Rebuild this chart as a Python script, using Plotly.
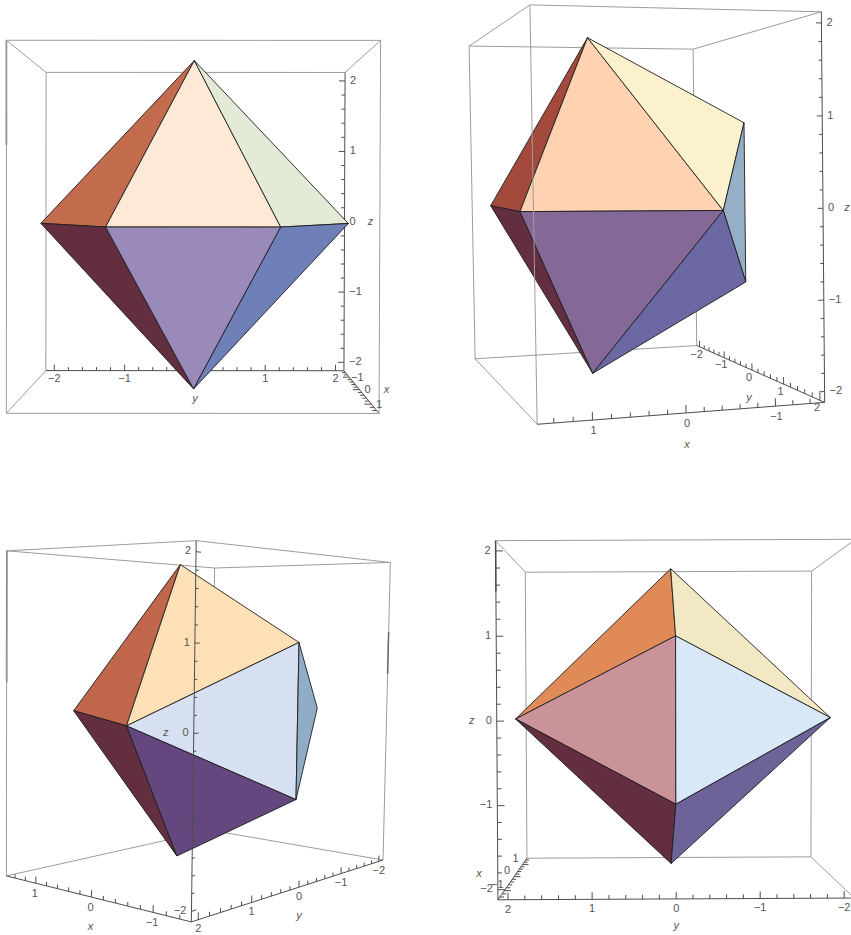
import numpy as np
import plotly.graph_objects as go

# ---- data -------------------------------------------------------------
VERTEX_NAMES = ['T', 'Bm', 'Ym', 'Yp', 'Cp', 'Dp', 'A', 'Bv']
VERTEX_X = [0.47, 0.47, -0.47, -0.47, 1.50, 1.50, -1.50, -1.50]
VERTEX_Y = [0.00, 0.00, -2.03, 2.03, -1.00, 1.00, 0.00, 0.00]
VERTEX_Z = [2.03, -2.03, 0.00, 0.00, 0.00, 0.00, 1.00, -1.00]
BOX_HALF = {'x': 1.57, 'y': 2.12, 'z': 2.12}
TICK_LIMIT = {'x': 1.4, 'y': 2.0, 'z': 2.0}
MINOR_STEP = 0.2

# visible faces of each view, with their colours
FACES_1 = [(('T', 'Ym', 'Cp'), '#C26B4D'), (('T', 'Cp', 'Dp'), '#FEE8D6'), (('T', 'Dp', 'Yp'), '#E3EAD6'),
           (('Bm', 'Ym', 'Cp'), '#632E3F'), (('Bm', 'Cp', 'Dp'), '#9A8ABA'), (('Bm', 'Dp', 'Yp'), '#6F80B8')]
FACES_2 = [(('T', 'Cp', 'Dp'), '#A44A3C'), (('T', 'Dp', 'Yp'), '#FFD2B2'), (('T', 'Yp', 'A'), '#FBF1CC'),
           (('Yp', 'A', 'Bv'), '#94AFC6'), (('Bm', 'Cp', 'Dp'), '#632E3F'), (('Bm', 'Dp', 'Yp'), '#846998'),
           (('Bm', 'Yp', 'Bv'), '#6C68A3')]
FACES_3 = [(('T', 'Dp', 'Yp'), '#C0664A'), (('T', 'Yp', 'A'), '#FDE0B6'), (('Yp', 'A', 'Bv'), '#D7E0F0'),
           (('A', 'Ym', 'Bv'), '#90ACC6'), (('Bm', 'Dp', 'Yp'), '#632E3F'), (('Bm', 'Yp', 'Bv'), '#654780')]
FACES_4 = [(('T', 'Yp', 'A'), '#E08A57'), (('T', 'A', 'Ym'), '#F2E8C4'), (('Yp', 'A', 'Bv'), '#C99399'),
           (('A', 'Ym', 'Bv'), '#D8E8F6'), (('Bm', 'Yp', 'Bv'), '#632E3F'), (('Bm', 'Bv', 'Ym'), '#6E6399')]

# ---- view cameras: homogeneous 3x4 matrices acting on box-cube coordinates
CAM_1 = [-10.708, 78.249, 0.019661, 194.28, -10.516, 0.023339, -78.354, 224.17, -0.052554, -3.5383e-05, -0.00079065, 1]
CAM_2 = [-68.41, -19.51, -2.7479, 628.13, -1.5157, -11.067, -82.427, 205.43, -0.014449, -0.066725, -0.0024891, 1]
CAM_3 = [-35.717, -58.035, 0.057488, 205.03, 20.325, -34.677, -76.5, 713.75, 0.033406, -0.054298, -0.0045121, 1]
CAM_4 = [34.282, -75.043, -1.5622, 671.94, 37.178, 0.15957, -76.6, 717.48, 0.0535, -0.00023467, -0.0021486, 1]

# axis: box corner signs (None = running coordinate), tick direction, labels,
# label pixel offset, text position, axis title pixel offset
VIEWS = [
    dict(cam=CAM_1, faces=FACES_1,
         dark=[((1, -1, 1), (1, -1, 0.44), '#555555', 1.5)],
         axes=[
        dict(name='y', at=(-1, None, -1), tick=(0, 0, 1), labels=[-2, -1, 1, 2], off=(0, 9), pos='middle center', title=(0, 29)),
        dict(name='z', at=(-1, 1, None), tick=(0, -1, 0), labels=[-2, -1, 0, 1, 2], off=(5, 0), pos='middle right', title=(26, 0)),
        dict(name='x', at=(None, 1, -1), tick=(0, -1, 0), labels=[-1, 0, 1], off=(8, 1), pos='middle center', title=(27, 1)),
    ]),
    dict(cam=CAM_2, faces=FACES_2, dark=[],
         axes=[
        dict(name='x', at=(None, 1, -1), tick=(0, 0, 1), labels=[-1, 0, 1], off=(1, 11), pos='middle center', title=(1, 32)),
        dict(name='y', at=(-1, None, -1), tick=(0, 0, 1), labels=[-2, -1, 0, 1, 2], off=(-3, 8), pos='middle center', title=(-3, 28)),
        dict(name='z', at=(-1, 1, None), tick=(1, 0, 0), labels=[-2, -1, 0, 1, 2], off=(5, 0), pos='middle right', title=(24, 0)),
    ]),
    dict(cam=CAM_3, faces=FACES_3,
         dark=[((1, 1, 1), (1, 1, 0.2), '#555555', 1.5), ((-1, -1, 0.54), (-1, -1, 0.26), '#6a6a6a', 1.5)],
         axes=[
        dict(name='x', at=(None, 1, -1), tick=(0, 0, 1), labels=[-1, 0, 1], off=(-1, 11), pos='middle center', title=(-1, 30)),
        dict(name='y', at=(-1, None, -1), tick=(0, 0, 1), labels=[-2, -1, 0, 1, 2], off=(0, 10), pos='middle center', title=(0, 29)),
        dict(name='z', at=(-1, 1, None), tick=(0, -1, 0), labels=[-2, -1, 0, 1, 2], off=(-5, 0), pos='middle left', title=(-28, 0)),
    ]),
    dict(cam=CAM_4, faces=FACES_4,
         dark=[((-1, 1, 1), (-1, 1, 0.72), '#555555', 1.5)],
         axes=[
        dict(name='y', at=(-1, None, -1), tick=(0, 0, 1), labels=[-2, -1, 0, 1, 2], off=(0, 10), pos='middle center', title=(0, 27)),
        dict(name='z', at=(-1, 1, None), tick=(0, -1, 0), labels=[-2, -1, 0, 1, 2], off=(-5, 0), pos='middle left', title=(-25, 0)),
        dict(name='x', at=(None, 1, -1), tick=(0, -1, 0), labels=[-1, 0, 1], off=(-7, -5), pos='middle center', title=(-35, -2)),
    ]),
]

MAJOR_LEN, MINOR_LEN = 0.085, 0.05
FRAME_COLOR, AXIS_COLOR, EDGE_COLOR, TEXT_COLOR = '#9c9c9c', '#4d4d4d', '#1e1e1e', '#555555'
FONT = 'Liberation Sans'
FONT_SIZE = 11

# ---- projection ----------------------------------------------------------
HALF = np.array([BOX_HALF['x'], BOX_HALF['y'], BOX_HALF['z']])
CUBE = BOX_HALF['z'] / HALF          # data -> cube scale (the box is drawn as a cube)
VERTS = {n: np.array([x, y, z]) for n, x, y, z in zip(VERTEX_NAMES, VERTEX_X, VERTEX_Y, VERTEX_Z)}

def homog(cam, p):
    return np.array(cam).reshape(3, 4) @ np.append(np.asarray(p) * CUBE, 1.0)

def project(cam, p):
    h = homog(cam, p)
    return h[0] / h[2], h[1] / h[2]

def depth(cam, p):
    return float(homog(cam, p)[2])

def add_lines(fig, segs, color, width):
    xs, ys = [], []
    for a, b in segs:
        xs += [a[0], b[0], None]
        ys += [a[1], b[1], None]
    if xs:
        fig.add_trace(go.Scatter(x=xs, y=ys, mode='lines', line=dict(color=color, width=width),
                                 hoverinfo='skip', showlegend=False))

def box_edges():
    out = []
    for a in (-1, 1):
        for b in (-1, 1):
            out.append(((-1, a, b), (1, a, b)))
            out.append(((a, -1, b), (a, 1, b)))
            out.append(((a, b, -1), (a, b, 1)))
    return out

def minus(v):
    return str(v).replace('-', '\u2212')

fig = go.Figure()

for view in VIEWS:
    cam = view['cam']
    centre_depth = depth(cam, np.zeros(3))
    is_front = lambda p: depth(cam, p) < centre_depth - 1e-9
    axis_mids = {tuple(0 if s is None else s for s in ax['at']) for ax in view['axes']}
    back_frame, front_frame = [], []
    for e0, e1 in box_edges():
        mid_signs = tuple(int((a + b) / 2) for a, b in zip(e0, e1))
        if mid_signs in axis_mids:
            continue
        seg = (project(cam, HALF * np.array(e0)), project(cam, HALF * np.array(e1)))
        (front_frame if is_front(HALF * np.array(mid_signs)) else back_frame).append(seg)

    back_axis, front_axis, label_sets = [], [], []
    for ax in view['axes']:
        idx = ax['at'].index(None)
        half = HALF[idx]
        def point(t):
            p = np.array([0.0 if s is None else s * HALF[i] for i, s in enumerate(ax['at'])])
            p[idx] = t
            return p
        segs = [(project(cam, point(-half)), project(cam, point(half)))]
        n = int(round(TICK_LIMIT[ax['name']] / MINOR_STEP))
        for i in range(-n, n + 1):
            major = i % 5 == 0
            p = point(i * MINOR_STEP)
            q = p + np.array(ax['tick']) / CUBE * (MAJOR_LEN if major else MINOR_LEN)
            segs.append((project(cam, p), project(cam, q)))
        (front_axis if is_front(point(0)) else back_axis).extend(segs)
        xs, ys, ts = [], [], []
        for t in ax['labels']:
            u, v = project(cam, point(t))
            xs.append(u + ax['off'][0]); ys.append(v + ax['off'][1]); ts.append(minus(t))
        label_sets.append((xs, ys, ts, ax['pos']))
        u, v = project(cam, point(0))
        label_sets.append(([u + ax['title'][0]], [v + ax['title'][1]], ['<i>%s</i>' % ax['name']], 'middle center'))

    add_lines(fig, back_frame, FRAME_COLOR, 1)
    for e0, e1, col, w in view['dark']:
        add_lines(fig, [(project(cam, HALF * np.array(e0)), project(cam, HALF * np.array(e1)))], col, w)
    add_lines(fig, back_axis, AXIS_COLOR, 1)
    for names, color in view['faces']:
        pts = [project(cam, VERTS[n]) for n in names]
        xs = [p[0] for p in pts] + [pts[0][0]]
        ys = [p[1] for p in pts] + [pts[0][1]]
        fig.add_trace(go.Scatter(x=xs, y=ys, mode='lines', fill='toself', fillcolor=color,
                                 line=dict(color=EDGE_COLOR, width=0.9), hoverinfo='skip', showlegend=False))
    add_lines(fig, front_frame, FRAME_COLOR, 1)
    add_lines(fig, front_axis, AXIS_COLOR, 1)
    for xs, ys, ts, pos in label_sets:
        fig.add_trace(go.Scatter(x=xs, y=ys, text=ts, mode='text', textposition=pos,
                                 textfont=dict(family=FONT, size=FONT_SIZE, color=TEXT_COLOR),
                                 hoverinfo='skip', showlegend=False))

hidden = dict(visible=False, fixedrange=True)
fig.update_layout(width=851, height=935, margin=dict(l=0, r=0, t=0, b=0), paper_bgcolor='white',
                  plot_bgcolor='white', showlegend=False,
                  xaxis=dict(range=[0, 851], **hidden), yaxis=dict(range=[935, 0], **hidden))
fig.write_html("out.html", config=dict(displayModeBar=False),
               post_script="document.body.style.margin='0';document.documentElement.style.overflow='hidden';")
